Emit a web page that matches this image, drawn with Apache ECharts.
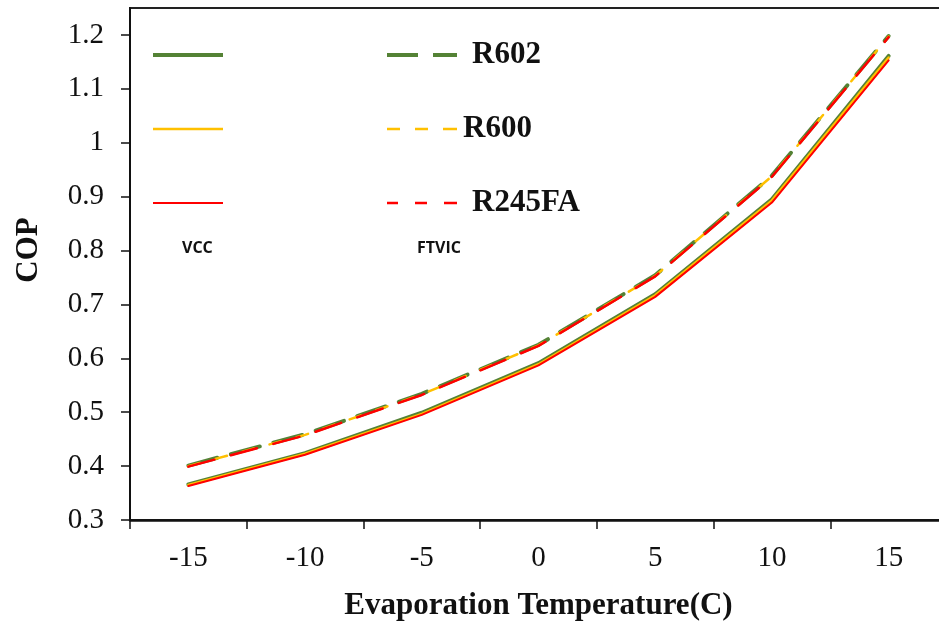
<!DOCTYPE html>
<html>
<head>
<meta charset="utf-8">
<title>COP vs Evaporation Temperature</title>
<script src="https://cdn.jsdelivr.net/npm/echarts@6/dist/echarts.min.js"></script>
<style>
  html, body { margin: 0; padding: 0; background: #fff; }
  #chart { width: 939px; height: 624px; }
</style>
</head>
<body>
<div id="chart"></div>
<script>
// Evaporation temperatures (°C)
const temperatures = ['-15', '-10', '-5', '0', '5', '10', '15'];

// COP, conventional vapour compression cycle (VCC)
const vccR602   = [0.366, 0.424, 0.499, 0.591, 0.719, 0.895, 1.161];
const vccR600   = [0.365, 0.423, 0.497, 0.589, 0.717, 0.893, 1.158];
const vccR245fa = [0.363, 0.421, 0.495, 0.587, 0.714, 0.889, 1.153];

// COP, flash-tank vapour injection cycle (FTVIC)
const ftvicR602   = [0.401, 0.459, 0.534, 0.625, 0.754, 0.939, 1.198];
const ftvicR600   = [0.400, 0.458, 0.533, 0.624, 0.753, 0.938, 1.197];
const ftvicR245fa = [0.399, 0.457, 0.532, 0.623, 0.752, 0.937, 1.196];

// Y axis tick values
const copTicks = [0.3, 0.4, 0.5, 0.6, 0.7, 0.8, 0.9, 1.0, 1.1, 1.2];

const GREEN = '#548235';
const YELLOW = '#FFC000';
const RED = '#FF0000';
const SERIF = '"Liberation Serif", "Times New Roman", serif';

// Legend sample icons: a 70 x 34 frame (the two bare moveTo points fix the
// frame) holding one or more horizontal bars of the given thickness.
function sampleIcon(thickness, segments) {
  const y = 17 - thickness / 2;
  let d = 'path://M0,0M70,34';
  segments.forEach(function (s) {
    d += 'M' + s[0] + ',' + y + 'H' + s[1] + 'V' + (y + thickness) + 'H' + s[0] + 'Z';
  });
  return d;
}

function lineSeries(name, data, color, width, dash) {
  return {
    name: name,
    type: 'line',
    data: data,
    symbol: 'none',
    animation: false,
    lineStyle: { color: color, width: width, type: dash || 'solid', cap: 'round' },
    itemStyle: { color: color }
  };
}

const chart = echarts.init(document.getElementById('chart'), null, { renderer: 'canvas' });

chart.setOption({
  backgroundColor: '#fff',
  animation: false,
  grid: {
    left: 130, top: 8, width: 817, height: 512,
    outerBoundsMode: 'none',
    containLabel: false,
    show: true, borderColor: '#222', borderWidth: 2, backgroundColor: 'transparent'
  },
  xAxis: {
    type: 'category',
    data: temperatures,
    boundaryGap: true,
    name: 'Evaporation Temperature(C)',
    nameLocation: 'middle',
    nameGap: 70,
    nameTextStyle: { fontFamily: SERIF, fontWeight: 'bold', fontSize: 31, color: '#111' },
    axisLine: { lineStyle: { color: '#111', width: 2.5 } },
    axisTick: { show: true, alignWithLabel: false, length: 9, lineStyle: { color: '#111', width: 1.5 } },
    axisLabel: { fontFamily: SERIF, fontSize: 29, color: '#111', margin: 24 },
    splitLine: { show: false }
  },
  yAxis: {
    type: 'value',
    min: 0.3,
    max: 1.25,
    interval: 0.1,
    name: 'COP',
    nameLocation: 'middle',
    nameGap: 86,
    nameRotate: 90,
    nameTextStyle: { fontFamily: SERIF, fontWeight: 'bold', fontSize: 31, color: '#111', padding: [0, 0, 0, 28] },
    axisLine: { show: true, lineStyle: { color: '#111', width: 2 } },
    axisTick: { show: true, length: 9, lineStyle: { color: '#111', width: 1.5 }, customValues: copTicks },
    axisLabel: {
      fontFamily: SERIF, fontSize: 29, color: '#111', margin: 26,
      customValues: copTicks,
      formatter: function (v) { return String(Math.round(v * 10) / 10); }
    },
    splitLine: { show: false }
  },
  legend: [
    {
      // VCC column: solid samples only
      orient: 'vertical',
      left: 153, top: 38, padding: 0,
      itemWidth: 70, itemHeight: 34, itemGap: 40,
      itemStyle: { borderWidth: 0 },
      formatter: function () { return ''; },
      textStyle: { fontSize: 31, lineHeight: 34 },
      data: [
        { name: 'VCC R602', icon: sampleIcon(4, [[0, 70]]) },
        { name: 'VCC R600', icon: sampleIcon(2.5, [[0, 70]]) },
        { name: 'VCC R245FA', icon: sampleIcon(2, [[0, 70]]) }
      ]
    },
    {
      // FTVIC column: dashed samples with refrigerant names
      orient: 'vertical',
      left: 387, top: 38, padding: 0,
      itemWidth: 70, itemHeight: 34, itemGap: 40,
      itemStyle: { borderWidth: 0 },
      formatter: function (n) { return n.replace('FTVIC ', ''); },
      textStyle: { fontFamily: SERIF, fontWeight: 'bold', fontSize: 31, lineHeight: 34, color: '#111' },
      data: [
        { name: 'FTVIC R602', icon: sampleIcon(4, [[0, 31], [46, 70]]), textStyle: { padding: [0, 0, 0, 10] } },
        { name: 'FTVIC R600', icon: sampleIcon(2.5, [[0, 13], [28, 41], [56, 70]]), textStyle: { padding: [0, 0, 0, 1] } },
        { name: 'FTVIC R245FA', icon: sampleIcon(2.5, [[0, 11], [28, 40], [57, 70]]), textStyle: { padding: [0, 0, 0, 10] } }
      ]
    }
  ],
  graphic: [
    { type: 'text', left: 182, top: 240, style: { text: 'VCC', font: 'bold 16px "Open Sans", sans-serif', fill: '#111' } },
    { type: 'text', left: 417, top: 240, style: { text: 'FTVIC', font: 'bold 16px "Open Sans", sans-serif', fill: '#111' } }
  ],
  series: [
    lineSeries('VCC R602', vccR602, GREEN, 4),
    lineSeries('FTVIC R602', ftvicR602, GREEN, 4, [30, 14]),
    lineSeries('VCC R600', vccR600, YELLOW, 2.5),
    lineSeries('FTVIC R600', ftvicR600, YELLOW, 2.5, [12, 16]),
    lineSeries('VCC R245FA', vccR245fa, RED, 2),
    lineSeries('FTVIC R245FA', ftvicR245fa, RED, 2.5, [27, 17])
  ]
});
</script>
</body>
</html>
